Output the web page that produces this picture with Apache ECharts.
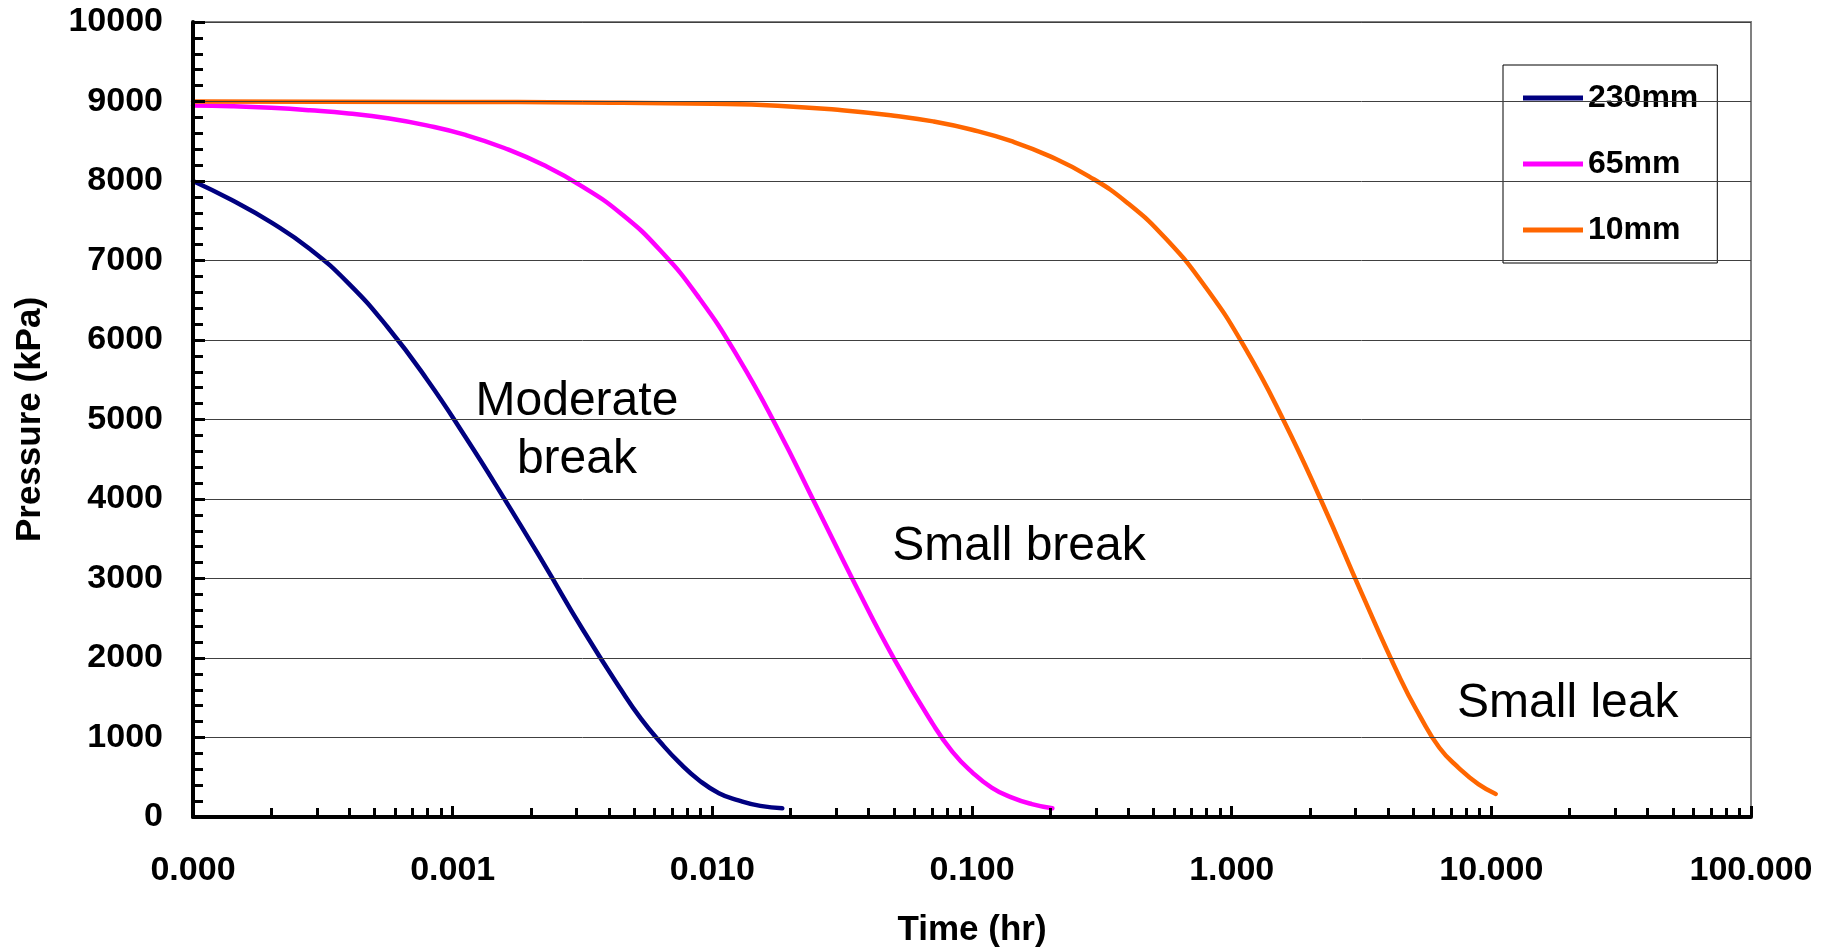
<!DOCTYPE html>
<html>
<head>
<meta charset="utf-8">
<script src="https://cdn.jsdelivr.net/npm/echarts@6/dist/echarts.min.js"></script>
<style>
html,body{margin:0;padding:0;background:#fff;}
#chart{width:1833px;height:948px;}
</style>
</head>
<body>
<div id="chart"></div>
<script>
// ---- Data (time in hr, pressure in kPa) ----
const seriesNames = ['230mm', '65mm', '10mm'];

const t230 = [0.0001, 0.000141, 0.0002, 0.000282, 0.000398, 0.000562, 0.000794, 0.00112, 0.00158, 0.00224, 0.00316, 0.00447, 0.00531, 0.00631, 0.0075, 0.00891, 0.0106, 0.0126, 0.0153, 0.0186];
const p230 = [8000, 7760, 7480, 7145, 6710, 6160, 5510, 4780, 4005, 3190, 2365, 1590, 1237, 940, 677, 460, 300, 210, 140, 110];

const t65 = [0.0001, 0.000141, 0.0002, 0.000282, 0.000398, 0.000562, 0.000794, 0.00112, 0.00158, 0.00224, 0.00316, 0.00447, 0.00631, 0.00891, 0.0126, 0.0178, 0.0251, 0.0355, 0.0501, 0.0708, 0.0841, 0.1, 0.119, 0.141, 0.17, 0.204];
const p65 = [8950, 8940, 8920, 8890, 8850, 8790, 8700, 8580, 8415, 8200, 7930, 7585, 7125, 6525, 5775, 4890, 3915, 2925, 1990, 1165, 820, 565, 370, 250, 162, 110];

const t10 = [0.0001, 0.001, 0.00316, 0.01, 0.0178, 0.0316, 0.0501, 0.0708, 0.1, 0.141, 0.2, 0.282, 0.398, 0.562, 0.794, 1.12, 1.58, 2.24, 3.16, 4.47, 5.31, 6.31, 7.5, 8.91, 10.4];
const p10 = [9000, 8995, 8988, 8972, 8948, 8890, 8820, 8750, 8645, 8504, 8310, 8059, 7721, 7263, 6663, 5913, 4998, 3940, 2822, 1734, 1270, 871, 616, 413, 290];

const xMajorTicks = [0.0001, 0.001, 0.01, 0.1, 1, 10, 100];
const xMinorMultipliers = [2, 3, 4, 5, 6, 7, 8, 9];
const yTicks = [0, 1000, 2000, 3000, 4000, 5000, 6000, 7000, 8000, 9000, 10000];

const annotationTexts = ['Moderate\nbreak', 'Small break', 'Small leak'];
const annotationT = [0.00301, 0.1517, 19.7];
const annotationP = [4860, 3400, 1420];

// ---- Build ----
const colors = ['#000080', '#FF00FF', '#FF6600'];
const FONT = "'Liberation Sans', Arial, sans-serif";

function pairs(xs, ys) { return xs.map((x, i) => [x, ys[i]]); }

const minorTickValues = [];
for (let i = 0; i < xMajorTicks.length - 1; i++) {
  xMinorMultipliers.forEach(m => minorTickValues.push(+(m * xMajorTicks[i]).toPrecision(6)));
}

const chart = echarts.init(document.getElementById('chart'), null, {renderer: 'canvas'});

const lineSeries = [[t230, p230], [t65, p65], [t10, p10]].map((d, i) => ({
  name: seriesNames[i],
  type: 'line',
  xAxisIndex: 0,
  yAxisIndex: 0,
  data: pairs(d[0], d[1]),
  showSymbol: false,
  symbol: 'none',
  smooth: 0.5,
  smoothConstraint: false,
  color: colors[i],
  lineStyle: {width: 4.5, color: colors[i], cap: 'round', join: 'round'},
  z: 5
}));

const annoLabel = {
  show: true,
  position: 'inside',
  align: 'center',
  verticalAlign: 'middle',
  fontFamily: FONT,
  fontSize: 48,
  lineHeight: 58,
  color: '#000',
  opacity: 1,
  textBorderWidth: 0
};

const annotationSeries = {
  name: 'annotations',
  type: 'scatter',
  xAxisIndex: 0,
  yAxisIndex: 0,
  symbolSize: 0,
  silent: true,
  itemStyle: {opacity: 1, color: '#000'},
  data: annotationTexts.map((txt, i) => ({
    value: [annotationT[i], annotationP[i]],
    label: Object.assign({}, annoLabel, {formatter: txt})
  })),
  label: annoLabel,
  z: 6
};

const option = {
  backgroundColor: '#fff',
  animation: false,
  grid: {
    left: 193, right: 82, top: 22, bottom: 131,
    outerBoundsMode: 'none',
    containLabel: false,
    show: true, borderColor: '#808080', borderWidth: 2, backgroundColor: 'transparent'
  },
  legend: {
    data: seriesNames,
    orient: 'vertical',
    left: 1503,
    top: 65,
    padding: [15, 19, 15, 20],
    itemGap: 30,
    itemWidth: 60,
    itemHeight: 5,
    icon: 'rect',
    backgroundColor: '#fff',
    borderColor: '#000',
    borderWidth: 1,
    borderRadius: 0,
    textStyle: {fontFamily: FONT, fontSize: 32, fontWeight: 'bold', color: '#000', lineHeight: 36}
  },
  xAxis: [
    {
      type: 'log',
      logBase: 10,
      min: 0.0001,
      max: 100,
      position: 'bottom',
      name: 'Time (hr)',
      nameLocation: 'middle',
      nameGap: 96,
      nameTextStyle: {fontFamily: FONT, fontSize: 35, fontWeight: 'bold', color: '#000'},
      axisLine: {show: true, onZero: false, lineStyle: {color: '#000', width: 4}},
      axisTick: {show: true, inside: true, length: 11, customValues: xMajorTicks, lineStyle: {color: '#000', width: 3}},
      axisLabel: {
        show: true, margin: 37, customValues: xMajorTicks,
        fontFamily: FONT, fontSize: 34, fontWeight: 'bold', color: '#000',
        formatter: v => Number(v).toFixed(3)
      },
      splitLine: {show: false},
      minorTick: {show: false},
      z: 10
    },
    {
      type: 'log',
      logBase: 10,
      min: 0.0001,
      max: 100,
      position: 'bottom',
      offset: 0,
      axisLine: {show: false},
      axisTick: {show: true, inside: true, length: 9, customValues: minorTickValues, lineStyle: {color: '#000', width: 3}},
      axisLabel: {show: false},
      splitLine: {show: false},
      z: 10
    }
  ],
  yAxis: {
    type: 'value',
    min: 0,
    max: 10000,
    interval: 1000,
    name: 'Pressure (kPa)',
    nameLocation: 'middle',
    nameRotate: 90,
    nameGap: 145,
    nameTextStyle: {fontFamily: FONT, fontSize: 35, fontWeight: 'bold', color: '#000'},
    axisLine: {show: true, lineStyle: {color: '#000', width: 4}},
    axisTick: {show: true, inside: true, length: 12, lineStyle: {color: '#000', width: 3}},
    minorTick: {show: true, splitNumber: 5, length: 10, lineStyle: {color: '#000', width: 3}},
    axisLabel: {
      margin: 30, fontFamily: FONT, fontSize: 34, fontWeight: 'bold', color: '#000',
      formatter: v => String(v)
    },
    splitLine: {show: true, lineStyle: {color: '#404040', width: 1}},
    z: 10
  },
  series: [...lineSeries, annotationSeries]
};

chart.setOption(option);
</script>
</body>
</html>
